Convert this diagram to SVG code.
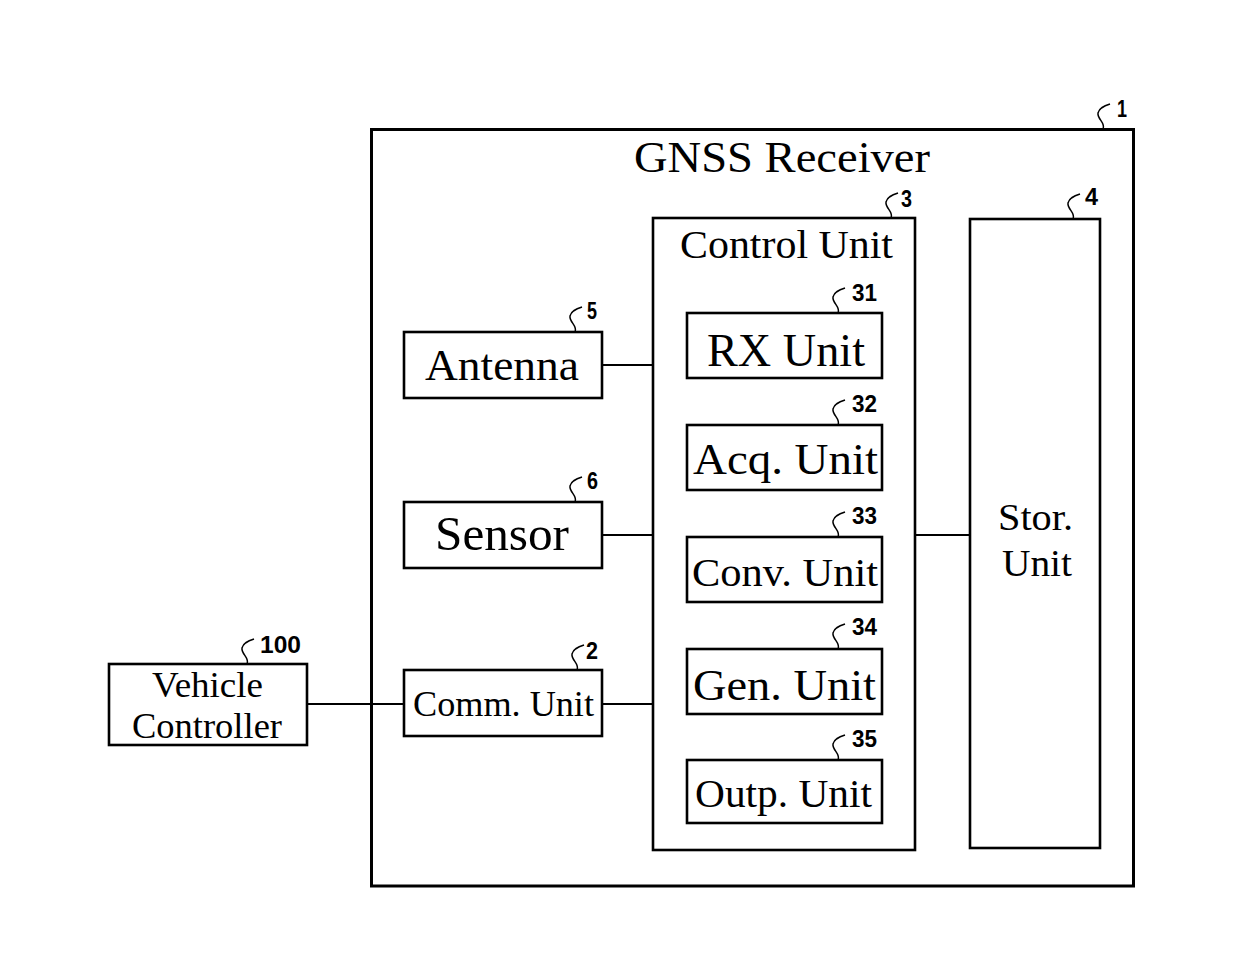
<svg xmlns="http://www.w3.org/2000/svg" xmlns:xlink="http://www.w3.org/1999/xlink" width="1246" height="978" viewBox="0 0 1246 978">
<style>
.box{fill:#fff;stroke:#000;stroke-width:2.6}
.outer{fill:none;stroke:#000;stroke-width:3}
.ln{stroke:#000;stroke-width:2;fill:none}
.sq{stroke:#000;stroke-width:1.5;fill:none}
.t{font-family:"Liberation Serif","Times New Roman",serif;fill:#000}
.n{font-family:"Liberation Sans",Arial,sans-serif;font-size:23px;font-weight:bold;fill:#000}
</style>
<defs>
<path id="sq" class="sq" d="M0,0 C3,-6 -6,-10 -5,-16 C-4,-21 1,-23 7,-25"/>
</defs>
<rect width="1246" height="978" fill="#fff"/>
<g id="connectors">
<line class="ln" x1="602" y1="365" x2="653" y2="365"/>
<line class="ln" x1="602" y1="535" x2="653" y2="535"/>
<line class="ln" x1="602" y1="704" x2="653" y2="704"/>
<line class="ln" x1="307" y1="704" x2="404" y2="704"/>
<line class="ln" x1="915" y1="535" x2="970" y2="535"/>
</g>
<g id="gnss-receiver">
<rect class="outer" x="371.5" y="129.5" width="762" height="756.5"/>
<text class="t" x="634" y="172" font-size="44" textLength="296" lengthAdjust="spacingAndGlyphs">GNSS Receiver</text>
<use xlink:href="#sq" href="#sq" x="1103" y="129"/>
<text class="n" x="1117" y="117" textLength="10" lengthAdjust="spacingAndGlyphs">1</text>
</g>
<g id="control-unit">
<rect class="box" x="653" y="218" width="262" height="632"/>
<text class="t" x="680" y="258" font-size="40" textLength="213" lengthAdjust="spacingAndGlyphs">Control Unit</text>
<use xlink:href="#sq" href="#sq" x="891" y="218"/>
<text class="n" x="901" y="207" textLength="11" lengthAdjust="spacingAndGlyphs">3</text>
</g>
<g id="storage-unit">
<rect class="box" x="970" y="219" width="130" height="629"/>
<text class="t" x="998" y="530" font-size="38" textLength="75" lengthAdjust="spacingAndGlyphs">Stor.</text>
<text class="t" x="1002" y="576" font-size="38" textLength="70" lengthAdjust="spacingAndGlyphs">Unit</text>
<use xlink:href="#sq" href="#sq" x="1073" y="219"/>
<text class="n" x="1085" y="205" textLength="13" lengthAdjust="spacingAndGlyphs">4</text>
</g>
<g id="antenna">
<rect class="box" x="404" y="332" width="198" height="66"/>
<text class="t" x="425" y="380" font-size="45" textLength="154" lengthAdjust="spacingAndGlyphs">Antenna</text>
<use xlink:href="#sq" href="#sq" x="575" y="332"/>
<text class="n" x="587" y="319" textLength="10" lengthAdjust="spacingAndGlyphs">5</text>
</g>
<g id="sensor">
<rect class="box" x="404" y="502" width="198" height="66"/>
<text class="t" x="435" y="550" font-size="48" textLength="134" lengthAdjust="spacingAndGlyphs">Sensor</text>
<use xlink:href="#sq" href="#sq" x="575" y="502"/>
<text class="n" x="587" y="489" textLength="11" lengthAdjust="spacingAndGlyphs">6</text>
</g>
<g id="comm-unit">
<rect class="box" x="404" y="670" width="198" height="66"/>
<text class="t" x="413" y="716" font-size="36" textLength="181" lengthAdjust="spacingAndGlyphs">Comm. Unit</text>
<use xlink:href="#sq" href="#sq" x="577" y="670"/>
<text class="n" x="586" y="659" textLength="12" lengthAdjust="spacingAndGlyphs">2</text>
</g>
<g id="vehicle-controller">
<rect class="box" x="109" y="664" width="198" height="81"/>
<text class="t" x="152" y="697" font-size="36" textLength="111" lengthAdjust="spacingAndGlyphs">Vehicle</text>
<text class="t" x="132" y="738" font-size="36" textLength="150" lengthAdjust="spacingAndGlyphs">Controller</text>
<use xlink:href="#sq" href="#sq" x="247" y="664"/>
<text class="n" x="260" y="653" textLength="41" lengthAdjust="spacingAndGlyphs">100</text>
</g>
<g id="rx-unit">
<rect class="box" x="687" y="313" width="195" height="65"/>
<text class="t" x="707" y="366" font-size="46" textLength="158" lengthAdjust="spacingAndGlyphs">RX Unit</text>
<use xlink:href="#sq" href="#sq" x="838" y="313"/>
<text class="n" x="852" y="301" textLength="25" lengthAdjust="spacingAndGlyphs">31</text>
</g>
<g id="acq-unit">
<rect class="box" x="687" y="425" width="195" height="65"/>
<text class="t" x="693" y="474" font-size="44" textLength="185" lengthAdjust="spacingAndGlyphs">Acq. Unit</text>
<use xlink:href="#sq" href="#sq" x="838" y="425"/>
<text class="n" x="852" y="412" textLength="25" lengthAdjust="spacingAndGlyphs">32</text>
</g>
<g id="conv-unit">
<rect class="box" x="687" y="537" width="195" height="65"/>
<text class="t" x="692" y="586" font-size="40" textLength="186" lengthAdjust="spacingAndGlyphs">Conv. Unit</text>
<use xlink:href="#sq" href="#sq" x="838" y="537"/>
<text class="n" x="852" y="524" textLength="25" lengthAdjust="spacingAndGlyphs">33</text>
</g>
<g id="gen-unit">
<rect class="box" x="687" y="649" width="195" height="65"/>
<text class="t" x="693" y="700" font-size="44" textLength="183" lengthAdjust="spacingAndGlyphs">Gen. Unit</text>
<use xlink:href="#sq" href="#sq" x="838" y="649"/>
<text class="n" x="852" y="635" textLength="25" lengthAdjust="spacingAndGlyphs">34</text>
</g>
<g id="outp-unit">
<rect class="box" x="687" y="760" width="195" height="63"/>
<text class="t" x="695" y="807" font-size="40" textLength="177" lengthAdjust="spacingAndGlyphs">Outp. Unit</text>
<use xlink:href="#sq" href="#sq" x="838" y="760"/>
<text class="n" x="852" y="747" textLength="25" lengthAdjust="spacingAndGlyphs">35</text>
</g>
</svg>
